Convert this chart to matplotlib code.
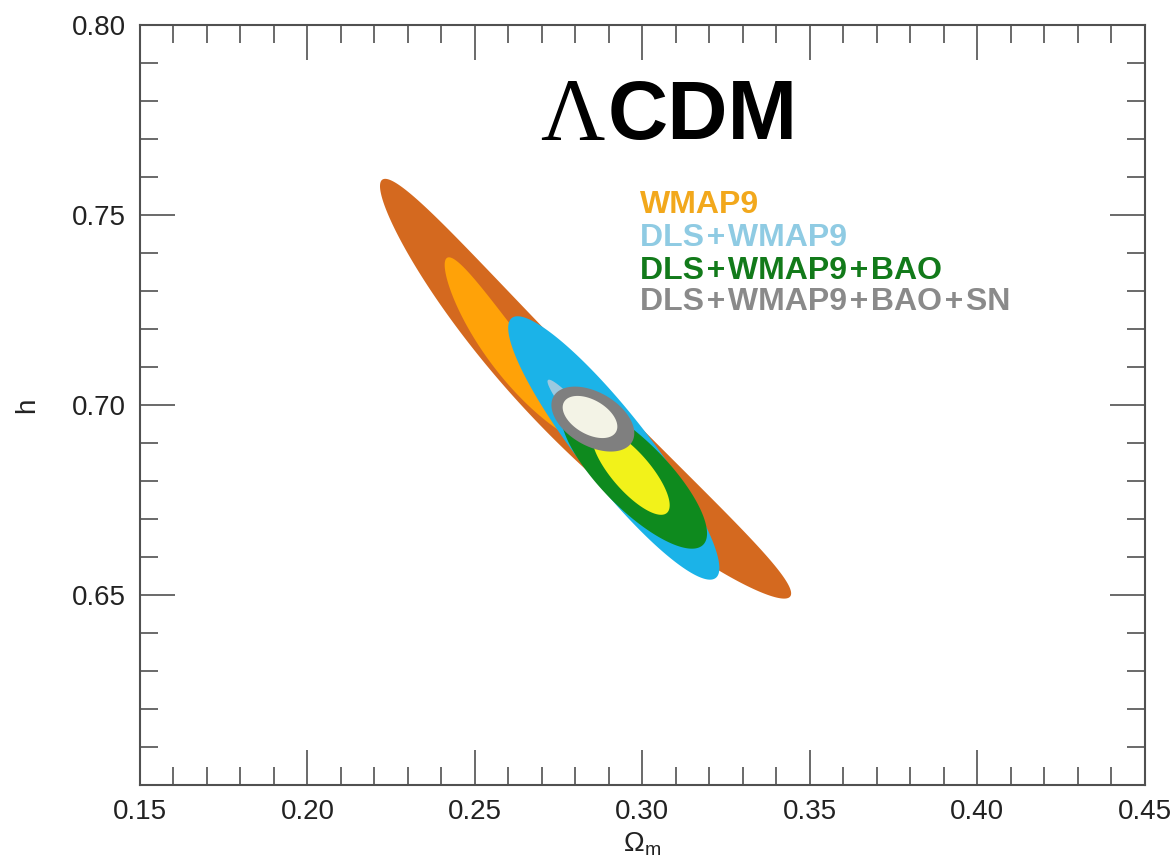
import numpy as np
import matplotlib
matplotlib.use("Agg")
import matplotlib.pyplot as plt

# ---- data ----
# Each confidence region: upper-left tip and lower-right tip (Omega_m, h),
# half-width relative to half-length, and sideways bulge of the middle.
labels = ['WMAP9', 'DLS+WMAP9', 'DLS+WMAP9+BAO', 'DLS+WMAP9+BAO+SN']

# 95% regions
outer_tip1_om = [0.2222, 0.2610, 0.2769, 0.2735]
outer_tip1_h = [0.7592, 0.7229, 0.7000, 0.7023]
outer_tip2_om = [0.3440, 0.3219, 0.3181, 0.2969]
outer_tip2_h = [0.6495, 0.6545, 0.6632, 0.6903]
outer_width = [0.12, 0.21, 0.34, 0.59]
outer_bulge = [0.08, 0.0, 0.0, 0.0]

# 68% regions
inner_tip1_om = [0.2416, 0.2718, 0.2858, 0.2766]
inner_tip1_h = [0.7387, 0.7066, 0.6934, 0.7008]
inner_tip2_om = [0.2830, 0.3022, 0.3073, 0.2921]
inner_tip2_h = [0.6908, 0.6750, 0.6716, 0.6929]
inner_width = [0.17, 0.12, 0.35, 0.57]
inner_bulge = [0.08, 0.0, 0.0, 0.0]

inner_colors = ['#FFA208', '#9CC9E0', '#F2F21A', '#F3F3E6']
outer_colors = ['#D4691F', '#1BB3E8', '#0E8A1E', '#7F7F7F']
label_colors = ['#F2A81C', '#8FCBE3', '#127A1A', '#8A8A8A']
label_text = ['WMAP9', 'DLS\u200a+\u200aWMAP9', 'DLS\u200a+\u200aWMAP9\u200a+\u200aBAO',
              'DLS\u200a+\u200aWMAP9\u200a+\u200aBAO\u200a+\u200aSN']

x_ticks = [0.15, 0.20, 0.25, 0.30, 0.35, 0.40, 0.45]
y_ticks = [0.65, 0.70, 0.75, 0.80]
xlim = (0.15, 0.45)
ylim = (0.60, 0.80)

plt.rcParams['font.family'] = ['Liberation Sans', 'DejaVu Sans']
plt.rcParams['mathtext.fontset'] = 'custom'
plt.rcParams['mathtext.rm'] = 'Liberation Sans'
plt.rcParams['mathtext.it'] = 'Liberation Sans:italic'

FW, FH = 11.75, 8.6
pos = [0.1191, 0.0872, 0.8553, 0.8837]
fig = plt.figure(figsize=(FW, FH), dpi=100)
ax = fig.add_axes(pos)

# display scale (pixels per data unit) so shapes are drawn in screen geometry
kx = pos[2] * FW * 100 / (xlim[1] - xlim[0])
ky = pos[3] * FH * 100 / (ylim[1] - ylim[0])

xg = np.linspace(xlim[0], xlim[1], 1000)
yg = np.linspace(ylim[0], ylim[1], 1000)
X, Y = np.meshgrid(xg, yg)


def region_field(x1, y1, x2, y2, w, b):
    cx, cy = (x1 + x2) / 2, (y1 + y2) / 2
    U = (X - cx) * kx
    V = (Y - cy) * ky
    tx, ty = (x1 - cx) * kx, (y1 - cy) * ky
    L = np.hypot(tx, ty)
    ex, ey = tx / L, ty / L
    nx, ny = -ey, ex
    a = (U * ex + V * ey) / L
    p = (U * nx + V * ny) / L
    p = p - b * (1 - a**2)
    return a**2 + (p / w) ** 2


for i in range(len(labels)):
    fo = region_field(outer_tip1_om[i], outer_tip1_h[i], outer_tip2_om[i], outer_tip2_h[i],
                      outer_width[i], outer_bulge[i])
    ax.contourf(X, Y, fo, levels=[0, 1], colors=[outer_colors[i]], antialiased=True,
                zorder=1 + 2 * i)
    fi = region_field(inner_tip1_om[i], inner_tip1_h[i], inner_tip2_om[i], inner_tip2_h[i],
                      inner_width[i], inner_bulge[i])
    ax.contourf(X, Y, fi, levels=[0, 1], colors=[inner_colors[i]], antialiased=True,
                zorder=2 + 2 * i)

ax.set_xlim(*xlim)
ax.set_ylim(*ylim)
ax.set_xticks(x_ticks)
ax.set_xticklabels([f'{v:.2f}' for v in x_ticks])
ax.set_yticks(y_ticks)
ax.set_yticklabels([f'{v:.2f}' for v in y_ticks])
ax.set_xticks(np.arange(0.15, 0.4501, 0.01), minor=True)
ax.set_yticks(np.arange(0.60, 0.8001, 0.01), minor=True)

spine_col = '#505050'
for s in ax.spines.values():
    s.set_color(spine_col)
    s.set_linewidth(1.5)
    s.set_zorder(20)
ax.tick_params(which='both', direction='in', top=True, right=True, color=spine_col)
ax.tick_params(which='major', length=25, width=1.2, labelsize=20, pad=10, labelcolor='#222222')
ax.tick_params(which='minor', length=13, width=1.2)

ax.set_xlabel(r'$\Omega_{\rm m}$', fontsize=20, labelpad=4, color='#222222')
ax.set_ylabel('h', fontsize=20, labelpad=23, color='#222222')

# title: serif lambda + bold sans CDM
ax.text(0.2695, 0.7700, 'Λ', family='Liberation Serif', fontsize=64, color='black',
        ha='left', va='baseline', zorder=30)
ax.text(0.2895, 0.7700, 'CDM', family='Liberation Sans', weight='bold', fontsize=60,
        color='black', ha='left', va='baseline', zorder=30)

label_y = [0.7526, 0.7439, 0.7353, 0.7271]
for i in range(len(labels)):
    ax.text(0.2993, label_y[i], label_text[i], fontsize=23, weight='bold',
            family=['Liberation Sans', 'DejaVu Sans'],
            color=label_colors[i], ha='left', va='center', zorder=30)

fig.savefig('out.png', dpi=100)
